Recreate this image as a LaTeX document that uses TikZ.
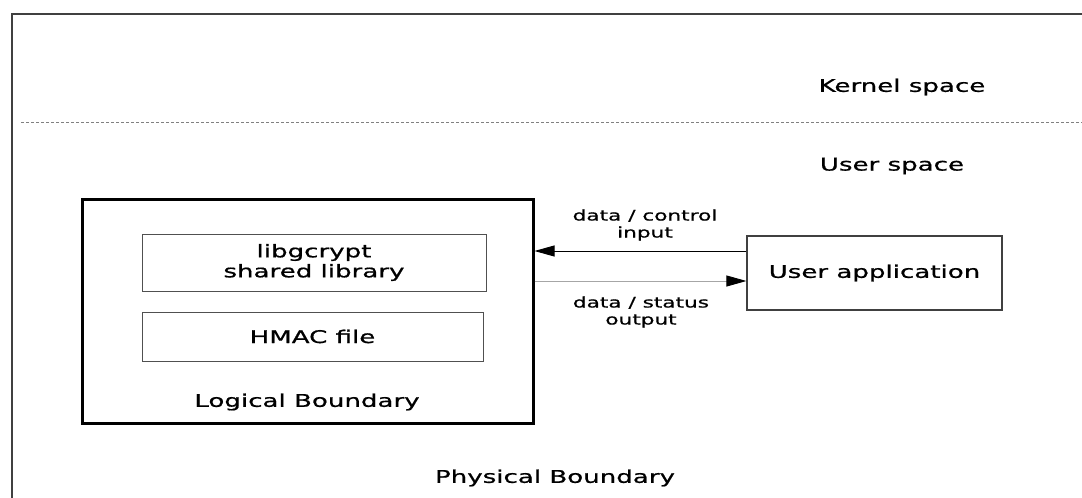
\documentclass[tikz,border=0pt]{standalone}
\usepackage{fontspec}
\setmainfont{DejaVu Sans}[FakeStretch=1.49, FakeBold=0.8]
\usetikzlibrary{arrows.meta}
\definecolor{frame}{HTML}{404040}
\definecolor{boxline}{HTML}{505050}
\begin{document}
\begin{tikzpicture}[x=1pt,y=-1pt,
  big/.style={font=\fontsize{17.5}{20}\selectfont, inner sep=0pt, align=center, text=black},
  small/.style={font=\fontsize{14.5}{17}\selectfont, inner sep=0pt, align=center, text=black},
  thinbox/.style={draw=boxline, line width=1pt, inner sep=0pt, align=center, font=\fontsize{17.5}{20}\selectfont},
  tip/.style={-{Triangle[length=20pt,width=11pt,black]}}]
\useasboundingbox (0,0) rectangle (1082,498);
\clip (0,0) rectangle (1082,498);
% outer physical boundary (cut off at right and bottom)
\draw[frame, line width=2pt] (12,520) -- (12,14) -- (1100,14);
% kernel / user separator
\draw[gray, line width=0.8pt, dash pattern=on 3pt off 2pt] (21,122) -- (1082,122);
\node[big] (ks) at (902,87) {Kernel space};
\node[big] (us) at (892,166) {User space};
% logical boundary
\node[draw=black, line width=3pt, minimum width=451pt, minimum height=224pt, inner sep=0pt] (lb) at (307.5,311) {};
\node[thinbox, minimum width=344pt, minimum height=57pt] (lib) at (314,262.5) {libgcrypt\\shared library};
\node[thinbox, minimum width=341pt, minimum height=49pt] (hmac) at (312.5,336.5) {HMAC file};
\node[big] (lbt) at (307,402) {Logical Boundary};
% user application
\node[thinbox, draw=frame, line width=1.2pt, minimum width=255pt, minimum height=74pt] (ua) at (874.5,273) {User application};
% connectors
\coordinate (p1) at ([yshift=22pt]ua.west);
\coordinate (p2) at ([yshift=-8pt]ua.west);
\draw[tip, black, line width=0.9pt] (p1) -- (p1 -| lb.east);
\draw[tip, gray!70, line width=0.9pt] (p2 -| lb.east) -- (p2);
\node[small] (in) at (645,225) {data / control\\input};
\node[small] (out) at (641,312) {data / status\\output};
\node[big] (pb) at (555,478) {Physical Boundary};
\end{tikzpicture}
\end{document}
